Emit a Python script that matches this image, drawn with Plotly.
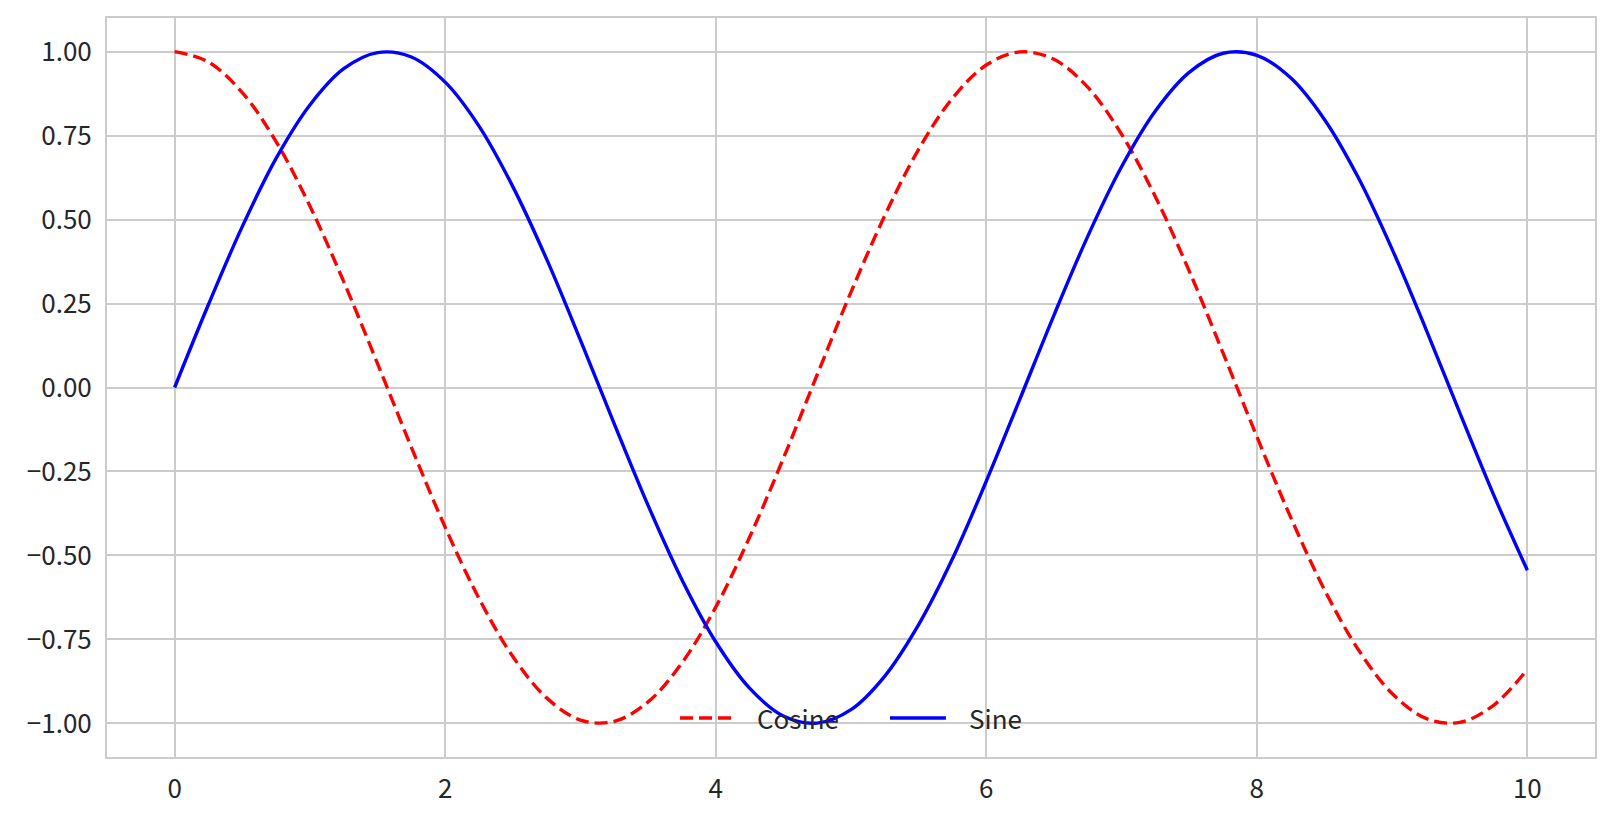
import plotly.graph_objects as go

x_vals = [0, 0.25, 0.5, 0.75, 1, 1.25, 1.5, 1.75, 2, 2.25, 2.5, 2.75, 3, 3.25, 3.5, 3.75,
          4, 4.25, 4.5, 4.75, 5, 5.25, 5.5, 5.75, 6, 6.25, 6.5, 6.75, 7, 7.25, 7.5, 7.75,
          8, 8.25, 8.5, 8.75, 9, 9.25, 9.5, 9.75, 10]

cosine_vals = [1.000, 0.969, 0.878, 0.732, 0.540, 0.315, 0.071, -0.178, -0.416, -0.628,
               -0.801, -0.924, -0.990, -0.994, -0.936, -0.820, -0.654, -0.446, -0.211,
               0.038, 0.284, 0.512, 0.709, 0.861, 0.960, 0.999, 0.977, 0.894, 0.754,
               0.568, 0.347, 0.103, -0.146, -0.386, -0.602, -0.780, -0.911, -0.985,
               -0.997, -0.946, -0.839]

sine_vals = [0.000, 0.247, 0.479, 0.682, 0.841, 0.949, 0.997, 0.984, 0.909, 0.778, 0.598,
             0.382, 0.141, -0.108, -0.351, -0.572, -0.757, -0.895, -0.978, -0.999, -0.959,
             -0.859, -0.706, -0.510, -0.279, -0.033, 0.215, 0.450, 0.657, 0.823, 0.938,
             0.995, 0.989, 0.922, 0.798, 0.625, 0.412, 0.174, -0.075, -0.319, -0.544]

series_names = ["Cosine", "Sine"]
x_ticks = [0, 2, 4, 6, 8, 10]
y_ticks = [-1.0, -0.75, -0.5, -0.25, 0.0, 0.25, 0.5, 0.75, 1.0]

FONT = "Noto Sans CJK JP"
TXT = "#262626"
GRID = "#cccccc"
styles = [dict(color="red", width=3.4, dash="13px,6px"),
          dict(color="blue", width=3.4, dash="solid")]

fig = go.Figure()
for name, ys, st in zip(series_names, [cosine_vals, sine_vals], styles):
    fig.add_trace(go.Scatter(x=x_vals, y=ys, mode="lines", name=name, showlegend=False,
                             line=dict(shape="spline", **st)))

# legend drawn in paper coordinates (matplotlib-style, no frame)
leg_y = 0.0528
leg_items = [(0.3851, 0.4214, 0.4355), (0.5262, 0.5638, 0.5779)]
for name, st, (x0, x1, xt) in zip(series_names, styles, leg_items):
    fig.add_shape(type="line", xref="paper", yref="paper", x0=x0, x1=x1, y0=leg_y, y1=leg_y,
                  line=st)
    fig.add_annotation(xref="paper", yref="paper", x=xt, y=leg_y, text=name,
                       showarrow=False, xanchor="left", yanchor="middle",
                       font=dict(family=FONT, size=26, color=TXT))

fig.update_layout(
    width=1597, height=797,
    margin=dict(l=99, r=10, t=10, b=48),
    paper_bgcolor="white", plot_bgcolor="white",
    font=dict(family=FONT, size=26, color=TXT),
    showlegend=False,
    xaxis=dict(range=[-0.5, 10.5], tickvals=x_ticks, ticktext=[str(v) for v in x_ticks],
               showgrid=True, gridcolor=GRID, gridwidth=1.6, zeroline=False,
               showline=True, linecolor=GRID, linewidth=2, mirror=True,
               ticks="", ticklabelstandoff=8, automargin=False),
    yaxis=dict(range=[-1.1, 1.1], tickvals=y_ticks, tickformat=".2f",
               showgrid=True, gridcolor=GRID, gridwidth=1.6, zeroline=False,
               showline=True, linecolor=GRID, linewidth=2, mirror=True,
               ticks="", ticklabelstandoff=8, automargin=False),
)

fig.write_html("out.html")
